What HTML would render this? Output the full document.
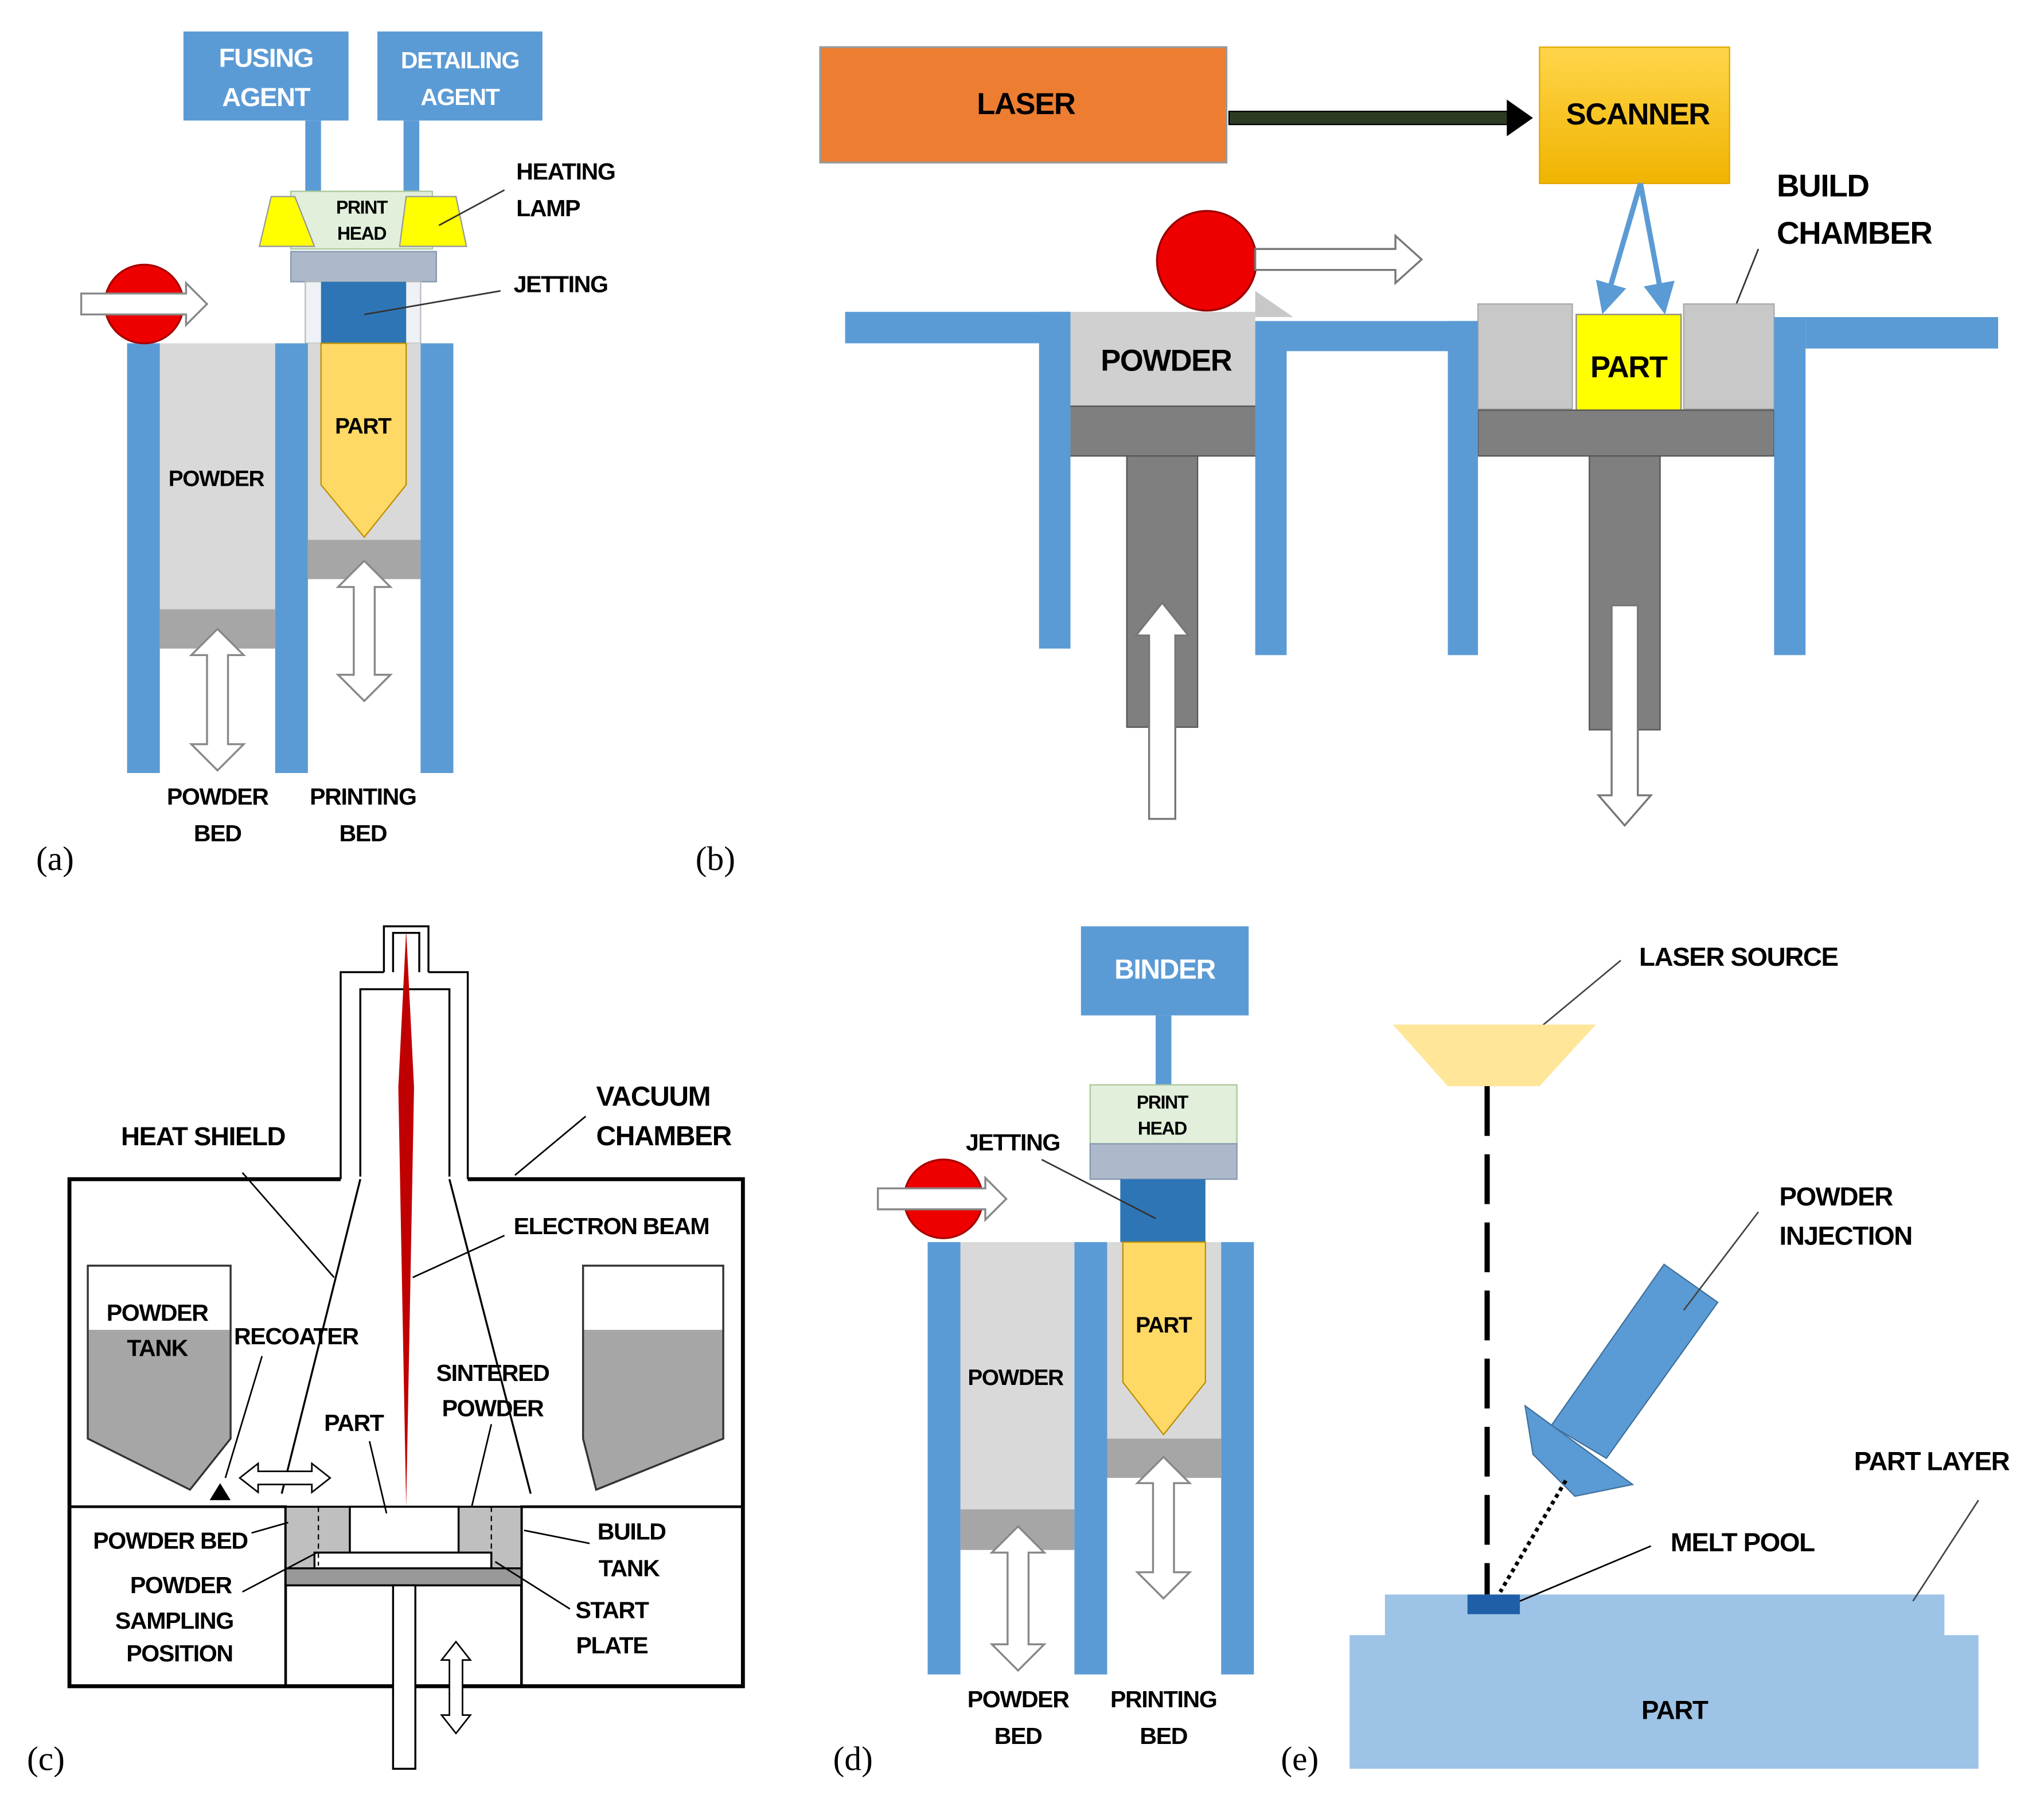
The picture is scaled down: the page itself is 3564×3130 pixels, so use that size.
<!DOCTYPE html>
<html><head><meta charset="utf-8"><style>
html,body{margin:0;padding:0;background:#fff}
svg{display:block}
text{font-family:"Liberation Sans",sans-serif;font-weight:bold;letter-spacing:-0.6px}
.s{font-family:"Liberation Serif",serif;font-weight:normal;font-size:26px;letter-spacing:0}
</style></head><body>
<svg width="3564" height="3130" viewBox="0 0 1560 1370" xmlns="http://www.w3.org/2000/svg">
<defs>
<marker id="bh" markerWidth="6" markerHeight="6" refX="5" refY="3" orient="auto"><path d="M0,0 L6,3 L0,6 z" fill="#5b9bd5"/></marker>
<linearGradient id="gold" x1="0" y1="0" x2="0" y2="1"><stop offset="0" stop-color="#ffd54a"/><stop offset="1" stop-color="#f0b400"/></linearGradient>
</defs>
<rect width="1560" height="1370" fill="#fff"/>

<!-- ===== Panel (a) ===== -->
<g font-size="18">
<rect x="140" y="24" width="126" height="68" fill="#5b9bd5"/>
<rect x="288" y="24" width="126" height="68" fill="#5b9bd5"/>
<text x="203" y="51" fill="#fff" text-anchor="middle" font-size="20">FUSING</text>
<text x="203" y="81" fill="#fff" text-anchor="middle" font-size="20">AGENT</text>
<text x="351" y="52" fill="#fff" text-anchor="middle" font-size="18">DETAILING</text>
<text x="351" y="80" fill="#fff" text-anchor="middle" font-size="18">AGENT</text>
<rect x="233" y="92" width="12" height="56" fill="#5b9bd5"/>
<rect x="308" y="92" width="12" height="56" fill="#5b9bd5"/>
<rect x="222" y="146" width="108" height="44" fill="#e2efda" stroke="#a9c79a"/>
<polygon points="207,150 225,150 240,188 198,188" fill="#ffff00" stroke="#999"/>
<polygon points="310,150 348,150 356,188 305,188" fill="#ffff00" stroke="#999"/>
<text x="276" y="163" text-anchor="middle" font-size="14">PRINT</text>
<text x="276" y="183" text-anchor="middle" font-size="14">HEAD</text>
<rect x="222" y="192" width="111" height="23" fill="#adb9ca" stroke="#8497b0"/>
<rect x="233" y="215" width="88" height="47" fill="#eef2f7" stroke="#bbb"/>
<rect x="245" y="215" width="65" height="47" fill="#2e75b6"/>
<rect x="122" y="262" width="88" height="203" fill="#d9d9d9"/>
<rect x="122" y="465" width="88" height="30" fill="#a6a6a6"/>
<rect x="235" y="262" width="86" height="150" fill="#d9d9d9"/>
<polygon points="245,262 310,262 310,370 278,410 245,370" fill="#ffd966" stroke="#bf9000"/>
<rect x="235" y="412" width="86" height="30" fill="#a6a6a6"/>
<rect x="97" y="262" width="25" height="328" fill="#5b9bd5"/>
<rect x="210" y="262" width="25" height="328" fill="#5b9bd5"/>
<rect x="321" y="262" width="25" height="328" fill="#5b9bd5"/>
<polygon points="166,480 186,500 174,500 174,568 186,568 166,588 146,568 158,568 158,500 146,500" fill="#fff" stroke="#888" stroke-width="1.5"/>
<polygon points="278,428 298,448 286,448 286,515 298,515 278,535 258,515 270,515 270,448 258,448" fill="#fff" stroke="#888" stroke-width="1.5"/>
<circle cx="110" cy="232" r="30" fill="#ee0000" stroke="#a00" stroke-width="1.5"/>
<polygon points="62,224 142,224 142,216 158,232 142,248 142,240 62,240" fill="#fff" stroke="#888" stroke-width="1.5"/>
<text x="394" y="137">HEATING</text>
<text x="394" y="165">LAMP</text>
<line x1="385" y1="145" x2="335" y2="172" stroke="#333" stroke-width="1.2"/>
<text x="392" y="223">JETTING</text>
<line x1="382" y1="222" x2="278" y2="240" stroke="#333" stroke-width="1.2"/>
<text x="165" y="371" text-anchor="middle" font-size="17">POWDER</text>
<text x="277" y="331" text-anchor="middle" font-size="17">PART</text>
<text x="166" y="614" text-anchor="middle">POWDER</text>
<text x="166" y="642" text-anchor="middle">BED</text>
<text x="277" y="614" text-anchor="middle">PRINTING</text>
<text x="277" y="642" text-anchor="middle">BED</text>
<text x="42" y="664" class="s" text-anchor="middle">(a)</text>
</g>

<!-- ===== Panel (b) ===== -->
<g font-size="23">
<rect x="626" y="36" width="310" height="88" fill="#ed7d31" stroke="#999" stroke-width="1.5"/>
<text x="783" y="87" text-anchor="middle">LASER</text>
<rect x="938" y="85" width="216" height="10" fill="#2d3b22" stroke="#000" stroke-width="1"/>
<polygon points="1150,76 1170,90 1150,104" fill="#000"/>
<rect x="1175" y="36" width="145" height="104" fill="url(#gold)" stroke="#e0a800"/>
<text x="1250" y="95" text-anchor="middle">SCANNER</text>
<line x1="1252" y1="140" x2="1224" y2="236" stroke="#5b9bd5" stroke-width="4" marker-end="url(#bh)"/>
<line x1="1252" y1="140" x2="1270" y2="236" stroke="#5b9bd5" stroke-width="4" marker-end="url(#bh)"/>
<text x="1356" y="150" font-size="24">BUILD</text>
<text x="1356" y="186" font-size="24">CHAMBER</text>
<line x1="1342" y1="190" x2="1320" y2="245" stroke="#333" stroke-width="1.2"/>
<rect x="817" y="238" width="141" height="72" fill="#d0d0d0"/>
<polygon points="958,222 958,242 987,242" fill="#c8c8c8"/>
<rect x="815" y="310" width="145" height="38" fill="#7f7f7f" stroke="#555"/>
<rect x="860" y="348" width="54" height="207" fill="#7f7f7f" stroke="#555"/>
<polygon points="887,460 907,485 897,485 897,625 877,625 877,485 867,485" fill="#fff" stroke="#777" stroke-width="1.5"/>
<rect x="1128" y="232" width="72" height="80" fill="#c8c8c8" stroke="#aaa"/>
<rect x="1285" y="232" width="69" height="80" fill="#c8c8c8" stroke="#aaa"/>
<rect x="1203" y="240" width="80" height="73" fill="#ffff00" stroke="#888"/>
<text x="1243" y="288" text-anchor="middle">PART</text>
<rect x="1128" y="313" width="226" height="35" fill="#7f7f7f" stroke="#555"/>
<rect x="1213" y="348" width="54" height="209" fill="#7f7f7f" stroke="#555"/>
<polygon points="1230,462 1250,462 1250,607 1260,607 1240,630 1220,607 1230,607" fill="#fff" stroke="#777" stroke-width="1.5"/>
<rect x="645" y="238" width="172" height="24" fill="#5b9bd5"/>
<rect x="793" y="238" width="24" height="257" fill="#5b9bd5"/>
<rect x="958" y="245" width="24" height="255" fill="#5b9bd5"/>
<rect x="982" y="245" width="146" height="23" fill="#5b9bd5"/>
<rect x="1105" y="245" width="23" height="255" fill="#5b9bd5"/>
<rect x="1354" y="242" width="24" height="258" fill="#5b9bd5"/>
<rect x="1378" y="242" width="147" height="24" fill="#5b9bd5"/>
<text x="890" y="283" text-anchor="middle">POWDER</text>
<circle cx="921" cy="199" r="38" fill="#ee0000" stroke="#900" stroke-width="1.5"/>
<polygon points="958,190 1065,190 1065,180 1085,198 1065,216 1065,206 958,206" fill="#fff" stroke="#777" stroke-width="1.5"/>
<text x="546" y="664" class="s" text-anchor="middle">(b)</text>
</g>

<!-- ===== Panel (c) ===== -->
<g font-size="18" stroke-linejoin="miter">
<rect x="53" y="900" width="514" height="387" fill="#fff" stroke="#000" stroke-width="3"/>
<rect x="260" y="742" width="97" height="160" fill="#fff" stroke="none"/>
<path d="M260,900 V742 H293 M327,742 H357 V900 M275,900 V755 H343 V900" fill="none" stroke="#000" stroke-width="1.5"/>
<path d="M293,742 V707 H327 V742 M300,742 V712 H320 V742" fill="none" stroke="#000" stroke-width="1.5"/>
<line x1="262" y1="900" x2="355" y2="900" stroke="#fff" stroke-width="4"/>
<line x1="275" y1="900" x2="215" y2="1140" stroke="#000" stroke-width="1.5"/>
<line x1="343" y1="900" x2="405" y2="1140" stroke="#000" stroke-width="1.5"/>
<polygon points="310,710 316,830 310,1150 304,830" fill="#c00000"/>
<polygon points="67,1015 176,1015 176,1098 145,1137 67,1098" fill="#a6a6a6"/>
<path d="M67,966 H176 V1098 L145,1137 L67,1098 Z" fill="none" stroke="#333" stroke-width="1.5"/>
<polygon points="445,1015 552,1015 552,1098 455,1137 445,1098" fill="#a6a6a6"/>
<path d="M445,966 H552 V1098 L455,1137 L445,1098 Z" fill="none" stroke="#333" stroke-width="1.5"/>
<path d="M53,1150 H218 V1287 M398,1287 V1150 H567" fill="none" stroke="#000" stroke-width="2"/>
<rect x="218" y="1150" width="180" height="60" fill="#bfbfbf" stroke="#000" stroke-width="1.5"/>
<rect x="267" y="1150" width="83" height="35" fill="#fff" stroke="#000" stroke-width="1.5"/>
<rect x="240" y="1185" width="135" height="12" fill="#fff" stroke="#000" stroke-width="1.5"/>
<rect x="218" y="1197" width="180" height="13" fill="#999" stroke="#000" stroke-width="1.5"/>
<line x1="243" y1="1150" x2="243" y2="1195" stroke="#000" stroke-dasharray="4,3"/>
<line x1="375" y1="1150" x2="375" y2="1185" stroke="#000" stroke-dasharray="4,3"/>
<rect x="300" y="1210" width="17" height="140" fill="#fff" stroke="#000" stroke-width="1.5"/>
<polygon points="183,1128 197,1117 197,1123 238,1123 238,1117 252,1128 238,1139 238,1133 197,1133 197,1139" fill="#fff" stroke="#000" stroke-width="1.2"/>
<polygon points="348,1253 359,1267 353,1267 353,1309 359,1309 348,1323 337,1309 343,1309 343,1267 337,1267" fill="#fff" stroke="#000" stroke-width="1.2"/>
<polygon points="160,1145 168,1132 176,1145" fill="#000"/>
<text x="455" y="844" font-size="21">VACUUM</text>
<text x="455" y="874" font-size="21">CHAMBER</text>
<line x1="447" y1="852" x2="393" y2="897" stroke="#000" stroke-width="1.2"/>
<text x="155" y="874" text-anchor="middle" font-size="20">HEAT SHIELD</text>
<line x1="185" y1="895" x2="255" y2="975" stroke="#000" stroke-width="1.2"/>
<text x="392" y="942">ELECTRON BEAM</text>
<line x1="385" y1="943" x2="315" y2="975" stroke="#000" stroke-width="1.2"/>
<text x="120" y="1008" text-anchor="middle">POWDER</text>
<text x="120" y="1035" text-anchor="middle">TANK</text>
<text x="226" y="1026" text-anchor="middle">RECOATER</text>
<line x1="200" y1="1035" x2="172" y2="1128" stroke="#000" stroke-width="1.2"/>
<text x="376" y="1054" text-anchor="middle">SINTERED</text>
<text x="376" y="1081" text-anchor="middle">POWDER</text>
<line x1="375" y1="1087" x2="360" y2="1150" stroke="#000" stroke-width="1.2"/>
<text x="270" y="1092" text-anchor="middle">PART</text>
<line x1="282" y1="1100" x2="295" y2="1155" stroke="#000" stroke-width="1.2"/>
<text x="130" y="1182" text-anchor="middle">POWDER BED</text>
<line x1="192" y1="1170" x2="220" y2="1162" stroke="#000" stroke-width="1.2"/>
<text x="138" y="1216" text-anchor="middle">POWDER</text>
<text x="133" y="1243" text-anchor="middle">SAMPLING</text>
<text x="137" y="1268" text-anchor="middle">POSITION</text>
<line x1="185" y1="1215" x2="242" y2="1185" stroke="#000" stroke-width="1.2"/>
<text x="482" y="1175" text-anchor="middle">BUILD</text>
<text x="480" y="1203" text-anchor="middle">TANK</text>
<line x1="450" y1="1178" x2="400" y2="1168" stroke="#000" stroke-width="1.2"/>
<text x="467" y="1235" text-anchor="middle">START</text>
<text x="467" y="1262" text-anchor="middle">PLATE</text>
<line x1="435" y1="1228" x2="378" y2="1192" stroke="#000" stroke-width="1.2"/>
<text x="35" y="1351" class="s" text-anchor="middle">(c)</text>
</g>

<!-- ===== Panel (d) ===== -->
<g font-size="18">
<rect x="825" y="707" width="128" height="68" fill="#5b9bd5"/>
<text x="889" y="747" fill="#fff" text-anchor="middle" font-size="21">BINDER</text>
<rect x="882" y="775" width="12" height="53" fill="#5b9bd5"/>
<rect x="832" y="828" width="112" height="45" fill="#e2efda" stroke="#a9c79a"/>
<text x="887" y="846" text-anchor="middle" font-size="14">PRINT</text>
<text x="887" y="866" text-anchor="middle" font-size="14">HEAD</text>
<rect x="832" y="873" width="112" height="27" fill="#adb9ca" stroke="#8497b0"/>
<rect x="855" y="900" width="65" height="48" fill="#2e75b6"/>
<rect x="733" y="948" width="87" height="204" fill="#d9d9d9"/>
<rect x="733" y="1152" width="87" height="31" fill="#a6a6a6"/>
<rect x="845" y="948" width="87" height="150" fill="#d9d9d9"/>
<polygon points="857,948 920,948 920,1055 888,1095 857,1055" fill="#ffd966" stroke="#bf9000"/>
<rect x="845" y="1098" width="87" height="30" fill="#a6a6a6"/>
<rect x="708" y="948" width="25" height="330" fill="#5b9bd5"/>
<rect x="820" y="948" width="25" height="330" fill="#5b9bd5"/>
<rect x="932" y="948" width="25" height="330" fill="#5b9bd5"/>
<polygon points="777,1165 797,1185 785,1185 785,1255 797,1255 777,1275 757,1255 769,1255 769,1185 757,1185" fill="#fff" stroke="#888" stroke-width="1.5"/>
<polygon points="888,1112 908,1132 896,1132 896,1200 908,1200 888,1220 868,1200 880,1200 880,1132 868,1132" fill="#fff" stroke="#888" stroke-width="1.5"/>
<circle cx="720" cy="915" r="30" fill="#ee0000" stroke="#a00" stroke-width="1.5"/>
<polygon points="670,907 752,907 752,899 768,915 752,931 752,923 670,923" fill="#fff" stroke="#888" stroke-width="1.5"/>
<text x="773" y="878" text-anchor="middle">JETTING</text>
<line x1="795" y1="885" x2="882" y2="930" stroke="#333" stroke-width="1.2"/>
<text x="775" y="1057" text-anchor="middle" font-size="17">POWDER</text>
<text x="888" y="1017" text-anchor="middle" font-size="17">PART</text>
<text x="777" y="1303" text-anchor="middle">POWDER</text>
<text x="777" y="1331" text-anchor="middle">BED</text>
<text x="888" y="1303" text-anchor="middle">PRINTING</text>
<text x="888" y="1331" text-anchor="middle">BED</text>
<text x="651" y="1351" class="s" text-anchor="middle">(d)</text>
</g>

<!-- ===== Panel (e) ===== -->
<g font-size="20">
<text x="1251" y="737">LASER SOURCE</text>
<line x1="1237" y1="733" x2="1160" y2="797" stroke="#444" stroke-width="1.2"/>
<polygon points="1063,782 1218,782 1175,829 1105,829" fill="#ffe699"/>
<line x1="1135" y1="829" x2="1135" y2="1217" stroke="#000" stroke-width="4" stroke-dasharray="38,14"/>
<text x="1358" y="920">POWDER</text>
<text x="1358" y="950">INJECTION</text>
<polygon points="1270,965 1311,994 1226,1113 1184,1088" fill="#5b9bd5" stroke="#41719c"/>
<polygon points="1164,1073 1246,1133 1202,1142 1170,1110" fill="#5b9bd5" stroke="#41719c"/>
<line x1="1342" y1="925" x2="1285" y2="1000" stroke="#444" stroke-width="1.2"/>
<line x1="1195" y1="1130" x2="1145" y2="1215" stroke="#000" stroke-width="3" stroke-dasharray="3,3"/>
<rect x="1030" y="1248" width="480" height="102" fill="#9dc3e6"/>
<rect x="1057" y="1217" width="427" height="33" fill="#9dc3e6"/>
<rect x="1120" y="1217" width="40" height="15" fill="#1f5fa8"/>
<text x="1278" y="1312" text-anchor="middle">PART</text>
<text x="1275" y="1184">MELT POOL</text>
<line x1="1260" y1="1180" x2="1160" y2="1222" stroke="#000" stroke-width="1.2"/>
<text x="1415" y="1122">PART LAYER</text>
<line x1="1510" y1="1145" x2="1460" y2="1222" stroke="#444" stroke-width="1.2"/>
<text x="992" y="1351" class="s" text-anchor="middle">(e)</text>
</g>
</svg>
</body></html>
